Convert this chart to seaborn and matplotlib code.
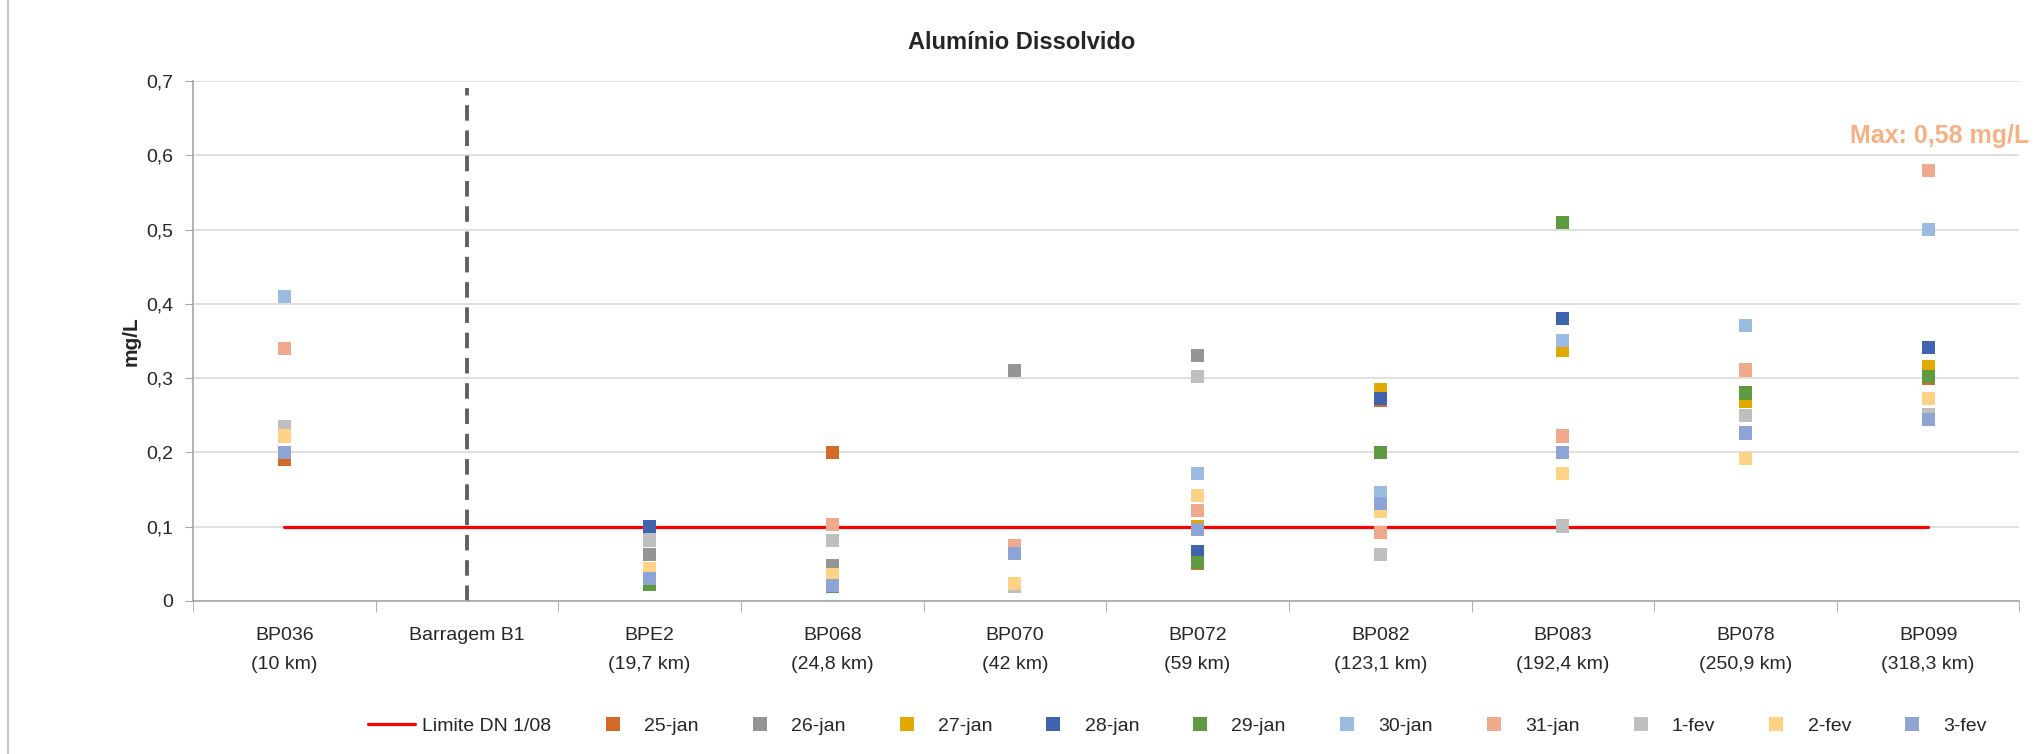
# Alumínio Dissolvido - recreated chart
import numpy as np
import pandas as pd
import seaborn as sns
import matplotlib.pyplot as plt
from matplotlib.lines import Line2D
from matplotlib.patches import Rectangle

# ------ DATA ------
stations = ["BP036\n(10 km)", "Barragem B1", "BPE2\n(19,7 km)", "BP068\n(24,8 km)",
            "BP070\n(42 km)", "BP072\n(59 km)", "BP082\n(123,1 km)", "BP083\n(192,4 km)",
            "BP078\n(250,9 km)", "BP099\n(318,3 km)"]
dates = ["25-jan", "26-jan", "27-jan", "28-jan", "29-jan",
         "30-jan", "31-jan", "1-fev", "2-fev", "3-fev"]
colors = ["#D46A28", "#959595", "#E2A900", "#3D64AC", "#5E9A40",
          "#9ABCE1", "#F0A98C", "#BFBFBF", "#FFD286", "#8EA4D5"]

# one list per station, values in date order (NaN = no sample)
nan = np.nan
v_bp036 = [0.19, 0.20, 0.20, 0.20, 0.20, 0.41, 0.34, 0.235, 0.222, 0.20]
v_barragem = [nan] * 10
v_bpe2 = [0.03, 0.062, 0.044, 0.10, 0.022, 0.03, 0.082, 0.082, 0.044, 0.03]
v_bp068 = [0.20, 0.047, 0.036, 0.02, 0.02, 0.03, 0.103, 0.081, 0.036, 0.021]
v_bp070 = [0.31, 0.31, 0.02, 0.064, 0.02, 0.02, 0.074, 0.02, 0.023, 0.064]
v_bp072 = [0.05, 0.33, 0.10, 0.066, 0.052, 0.172, 0.122, 0.302, 0.142, 0.096]
v_bp082 = [0.27, 0.13, 0.285, 0.272, 0.20, 0.146, 0.092, 0.062, 0.12, 0.131]
v_bp083 = [0.10, 0.10, 0.337, 0.38, 0.51, 0.351, 0.222, 0.101, 0.172, 0.20]
v_bp078 = [0.28, 0.31, 0.268, 0.28, 0.28, 0.371, 0.311, 0.25, 0.192, 0.226]
v_bp099 = [0.30, 0.25, 0.316, 0.341, 0.302, 0.50, 0.58, 0.251, 0.272, 0.244]

limite = [0.1] * 10
max_label = "Max: 0,58 mg/L"


def build_frame():
    cols = [v_bp036, v_barragem, v_bpe2, v_bp068, v_bp070,
            v_bp072, v_bp082, v_bp083, v_bp078, v_bp099]
    rows = []
    # date-major order so later dates are drawn on top
    for j, d in enumerate(dates):
        for st, vals in zip(stations, cols):
            rows.append({"station": st, "date": d, "value": vals[j]})
    return pd.DataFrame(rows)


def main():
    df = build_frame()
    sns.set_style("white")
    plt.rcParams['font.family'] = ['Liberation Sans', 'DejaVu Sans']

    fig = plt.figure(figsize=(20.44, 7.54), dpi=100)
    ax = fig.add_axes([0.0944, 0.203, 0.8936, 0.6896])

    # chart area border
    fig.patches.append(Rectangle((0.004, -0.01), 1.2, 1.02, transform=fig.transFigure,
                                 fill=False, edgecolor="#BFBFBF", linewidth=1.2))

    sns.stripplot(data=df, x="station", y="value", hue="date", order=stations,
                  hue_order=dates, palette=colors, jitter=False, dodge=False,
                  marker="s", size=9.5, linewidth=0, legend=False, ax=ax, zorder=3)

    # limit line
    ax.plot(np.arange(len(stations)), limite, color="#FF0000", linewidth=2.3, zorder=2)

    # dam divider
    ax.vlines(1, 0, 0.69, colors="#606060", linestyles=(0, (4, 2.5)), linewidth=2.8, zorder=2)

    ax.set_xlim(-0.5, len(stations) - 0.5)
    ax.set_ylim(0, 0.7)
    ax.set_yticks(np.arange(0, 0.71, 0.1))
    ax.set_yticklabels(["0" if t == 0 else f"{t:.1f}".replace(".", ",")
                        for t in np.arange(0, 0.71, 0.1)], fontsize=14)
    ax.set_xticks(np.arange(len(stations)))
    ax.set_xticklabels(stations, fontsize=14, linespacing=1.9)
    ax.tick_params(axis="x", length=0, pad=19)
    ax.tick_params(axis="y", length=6, color="#A6A6A6", left=True, pad=8)
    # minor ticks at category boundaries
    ax.set_xticks(np.arange(-0.5, len(stations)), minor=True)
    ax.tick_params(axis="x", which="minor", length=8, color="#A6A6A6", bottom=True)

    ax.grid(axis="y", color="#D9D9D9", linewidth=1.2)
    ax.set_axisbelow(True)
    for s in ["top", "right"]:
        ax.spines[s].set_visible(False)
    for s in ["left", "bottom"]:
        ax.spines[s].set_color("#A6A6A6")
        ax.spines[s].set_linewidth(1.2)

    ax.set_xlabel("")
    ax.set_ylabel("mg/L", fontsize=15, fontweight="bold", labelpad=4)
    fig.text(0.5, 0.944, "Alumínio Dissolvido", ha="center", va="center",
             fontsize=17, fontweight="bold")
    fig.text(0.993, 0.82, max_label, ha="right", va="center",
             fontsize=18, fontweight="bold", color="#F4B183")

    handles = [Line2D([], [], color="#FF0000", linewidth=2.3, label="Limite DN 1/08")]
    for d, c in zip(dates, colors):
        handles.append(Line2D([], [], marker="s", linestyle="", markersize=9.5,
                              markerfacecolor=c, markeredgewidth=0, label=d))
    fig.legend(handles=handles, loc="center", bbox_to_anchor=(0.576, 0.037), ncol=11,
               frameon=False, fontsize=14, columnspacing=1.95, handlelength=2.4,
               handletextpad=0.4)

    fig.savefig("out.png", dpi=100)


if __name__ == "__main__":
    main()
